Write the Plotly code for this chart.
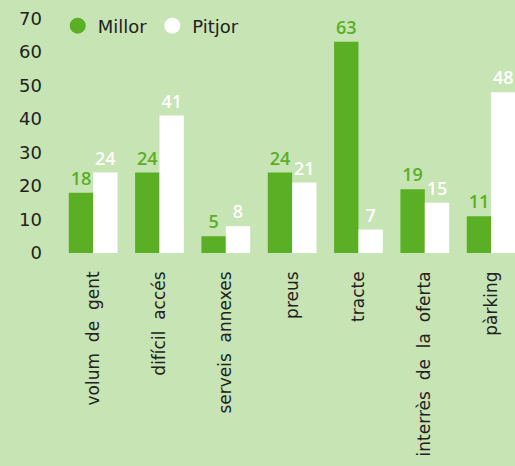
import plotly.graph_objects as go

categories = ["volum  de  gent", "difícil  accés", "serveis  annexes", "preus", "tracte", "interrès  de  la  oferta", "pàrking"]
millor = [18, 24, 5, 24, 63, 19, 11]
pitjor = [24, 41, 8, 21, 7, 15, 48]
y_ticks = [0, 10, 20, 30, 40, 50, 60, 70]

BG = "#c7e4b4"
GREEN = "#5baf24"
FONT = "DejaVu Sans"
LABEL_FONT = "Open Sans"

fig = go.Figure()
fig.add_trace(go.Bar(x=categories, y=millor, name="Millor", marker=dict(color=GREEN, line=dict(width=0)),
                     text=[str(v) for v in millor], textposition="outside",
                     textfont=dict(color=GREEN, size=18, family=LABEL_FONT, weight=600),
                     cliponaxis=False, showlegend=False))
fig.add_trace(go.Bar(x=categories, y=pitjor, name="Pitjor", marker=dict(color="white", line=dict(width=0)),
                     text=[str(v) for v in pitjor], textposition="outside",
                     textfont=dict(color="white", size=18, family=LABEL_FONT, weight=600),
                     cliponaxis=False, showlegend=False))
# legend entries with circle markers
fig.add_trace(go.Scatter(x=[None], y=[None], mode="markers", name="Millor",
                         marker=dict(color=GREEN, size=16, symbol="circle")))
fig.add_trace(go.Scatter(x=[None], y=[None], mode="markers", name="Pitjor",
                         marker=dict(color="white", size=16, symbol="circle")))

fig.update_layout(
    width=515, height=466,
    paper_bgcolor=BG, plot_bgcolor=BG,
    margin=dict(l=60, r=0, t=5, b=213),
    barmode="group", bargap=0.265, bargroupgap=0,
    font=dict(family=FONT, color="#222222", size=17),
    legend=dict(orientation="h", x=-0.005, y=0.99, xanchor="left", yanchor="top",
                bgcolor="rgba(0,0,0,0)", font=dict(size=18, color="#222222"),
                itemwidth=30, tracegroupgap=0),
    showlegend=True,
)
fig.update_xaxes(range=[-0.5, 6.36], tickangle=-90, showgrid=False, showline=False, zeroline=False,
                 ticks="", ticklabelstandoff=14, tickfont=dict(size=17, color="#222222"))
fig.update_yaxes(range=[0, 74], tickvals=y_ticks, ticktext=[str(v) for v in y_ticks],
                 showgrid=False, showline=False, zeroline=False, ticks="",
                 ticklabelstandoff=17, tickfont=dict(size=18, color="#222222"))

fig.write_html("out.html", config={"displayModeBar": False},
               post_script="document.body.style.margin='0';document.body.style.overflow='hidden';")
